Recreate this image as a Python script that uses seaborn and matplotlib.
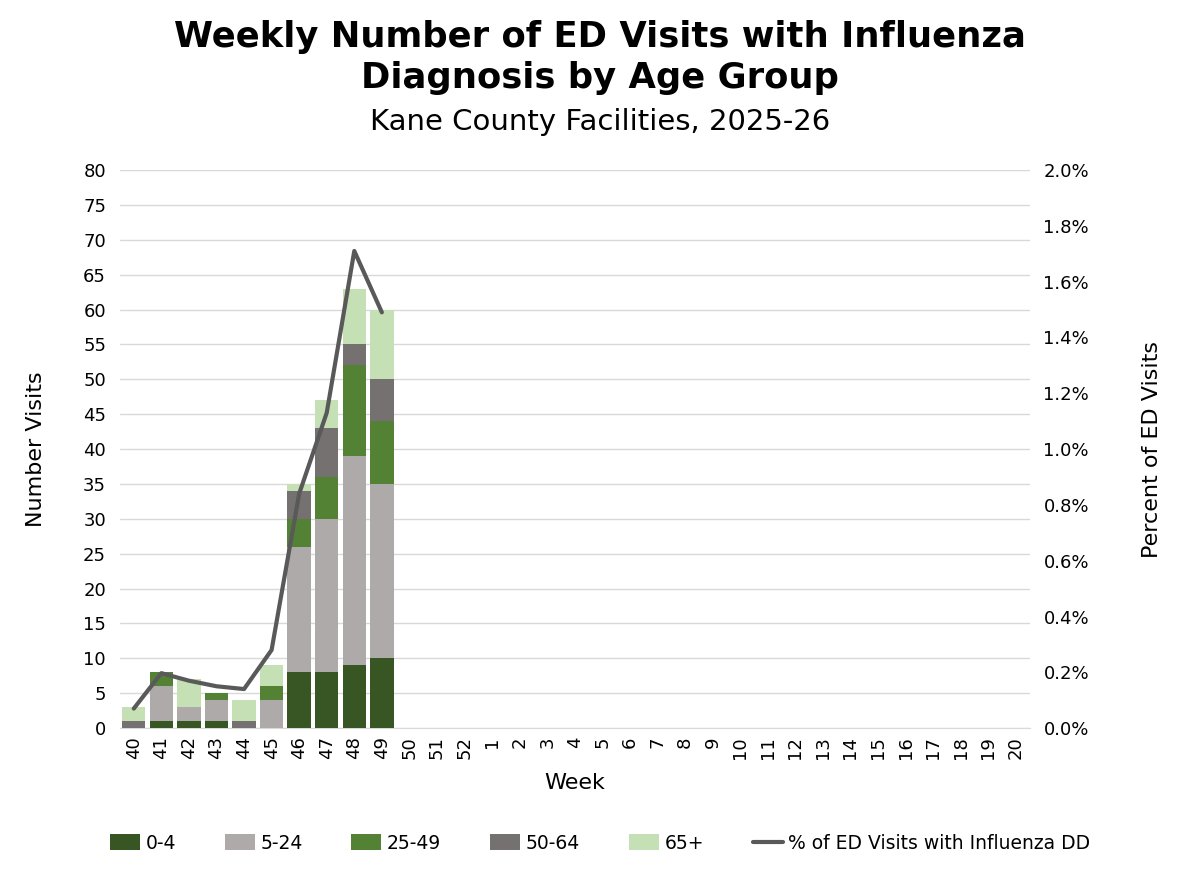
import numpy as np
import pandas as pd
import matplotlib
matplotlib.use("Agg")
import matplotlib.pyplot as plt
import seaborn as sns
from matplotlib.ticker import PercentFormatter
from matplotlib.lines import Line2D
from matplotlib.patches import Patch

# ===================== DATA ==========================
weeks = [str(w) for w in list(range(40, 53)) + list(range(1, 21))]
data_weeks = [str(w) for w in range(40, 50)]

age_0_4 = [0, 1, 1, 1, 0, 0, 8, 8, 9, 10]
age_5_24 = [0, 5, 2, 3, 0, 4, 18, 22, 30, 25]
age_25_49 = [0, 2, 0, 1, 0, 2, 4, 6, 13, 9]
age_50_64 = [1, 0, 0, 0, 1, 0, 4, 7, 3, 6]
age_65_plus = [2, 0, 4, 0, 3, 3, 1, 4, 8, 10]

pct_ed_visits = [0.07, 0.197, 0.17, 0.15, 0.14, 0.28, 0.84, 1.13, 1.71, 1.49]

groups = ["0-4", "5-24", "25-49", "50-64", "65+"]
series = [age_0_4, age_5_24, age_25_49, age_50_64, age_65_plus]
colors = ["#375623", "#AEAAAA", "#548235", "#767171", "#C5E0B4"]
line_color = "#595959"

# ===================== PLOT ==========================
sns.set_style("white")
plt.rcParams["font.family"] = ["DejaVu Sans"]
plt.rcParams["text.color"] = "black"
plt.rcParams["axes.labelcolor"] = "black"
plt.rcParams["xtick.color"] = "black"
plt.rcParams["ytick.color"] = "black"

fig = plt.figure(figsize=(12, 8.72), dpi=100)
ax = fig.add_axes([0.1, 0.165, 0.758, 0.64])

bottom = np.zeros(len(weeks))
for name, vals, col in zip(groups, series, colors):
    full = pd.Series(vals, index=data_weeks).reindex(weeks).fillna(0).values
    sns.barplot(x=weeks, y=full, order=weeks, color=col, saturation=1,
                bottom=bottom, width=0.85, ax=ax, linewidth=0, zorder=3)
    bottom = bottom + full

ax.set_ylim(0, 80)
ax.set_yticks(range(0, 81, 5))
ax.set_xlim(-0.5, len(weeks) - 0.5)
ax.yaxis.grid(True, color="#D9D9D9", linewidth=1, zorder=0)
ax.set_axisbelow(True)
for s in ["left", "right", "top"]:
    ax.spines[s].set_visible(False)
ax.spines["bottom"].set_color("#D9D9D9")
ax.tick_params(axis="x", labelrotation=90, labelsize=13, length=0, pad=6)
ax.tick_params(axis="y", labelsize=13, length=0, pad=10)
ax.set_xlabel("Week", fontsize=16, labelpad=10)
ax.set_ylabel("Number Visits", fontsize=16, labelpad=27)

ax2 = ax.twinx()
positions = [weeks.index(w) for w in data_weeks]
sns.lineplot(x=positions, y=pct_ed_visits, ax=ax2, color=line_color,
             linewidth=3, zorder=5)
ax2.set_ylim(0, 2.0)
ax2.set_yticks(np.arange(0, 2.01, 0.2))
ax2.yaxis.set_major_formatter(PercentFormatter(decimals=1))
ax2.tick_params(axis="y", labelsize=13, length=0, pad=10)
ax2.set_ylabel("Percent of ED Visits", fontsize=16, labelpad=38)
for s in ["left", "right", "top", "bottom"]:
    ax2.spines[s].set_visible(False)

fig.text(0.5, 0.977, "Weekly Number of ED Visits with Influenza\nDiagnosis by Age Group",
         ha="center", va="top", fontsize=25.5, fontweight="bold", linespacing=1.25)
fig.text(0.5, 0.86, "Kane County Facilities, 2025-26", ha="center", va="center",
         fontsize=21)

handles = [Patch(facecolor=c, edgecolor="none") for c in colors]
handles.append(Line2D([0], [0], color=line_color, linewidth=3))
labels = groups + ["% of ED Visits with Influenza DD"]
fig.legend(handles, labels, loc="center", bbox_to_anchor=(0.5, 0.033), ncol=6,
           frameon=False, fontsize=13.5, handlelength=1.6, handleheight=0.9,
           columnspacing=2.6, handletextpad=0.3)

fig.savefig("out.png", dpi=100)
